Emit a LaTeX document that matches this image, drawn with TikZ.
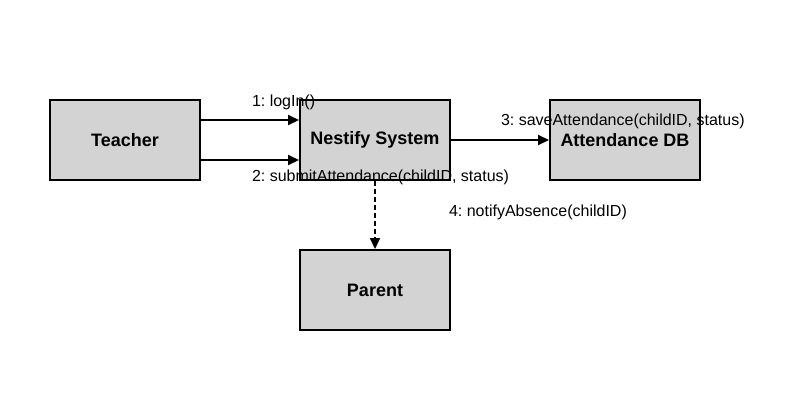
\documentclass[tikz,border=0pt]{standalone}
\usepackage{fontspec}
\setmainfont{Liberation Sans}
\usetikzlibrary{arrows.meta}
\definecolor{boxgray}{HTML}{D3D3D3}
\frenchspacing
\begin{document}
\begin{tikzpicture}[x=1pt,y=-1pt,line width=2pt,
		box/.style={draw,fill=boxgray,minimum width=150pt,minimum height=80pt,
			font=\fontsize{18}{20}\selectfont\bfseries},
		msg/.style={anchor=base west,inner sep=0,font=\fontsize{16}{18}\selectfont},
		call/.style={-{Triangle[length=11pt,width=10pt]}}]
		\useasboundingbox (0,0) rectangle (800,400);
		\begin{scope}[nodes={box}]
		\node (t) at (125,140) {Teacher};
		\node (n) at (375,140) {Nestify System};
		\node (a) at (625,140) {Attendance DB};
		\node (p) at (375,290) {Parent};
		\end{scope}
		\draw[call] ([yshift=20pt]t.east) -- ([yshift=20pt]n.west);
		\draw[call] ([yshift=-20pt]t.east) -- ([yshift=-20pt]n.west);
		\draw[call] (n) -- (a);
		\draw[call,dash pattern=on 5pt off 3pt] (n) -- (p);
		\node[msg] (m1) at (251,106) {1: logIn()};
		\node[msg] (m2) at (251,181) {2: submitAttendance(childID, status)};
		\node[msg] (m3) at (500,125) {3: saveAttendance(childID, status)};
		\node[msg] (m4) at (448,216) {4: notifyAbsence(childID)};
\end{tikzpicture}
\end{document}
